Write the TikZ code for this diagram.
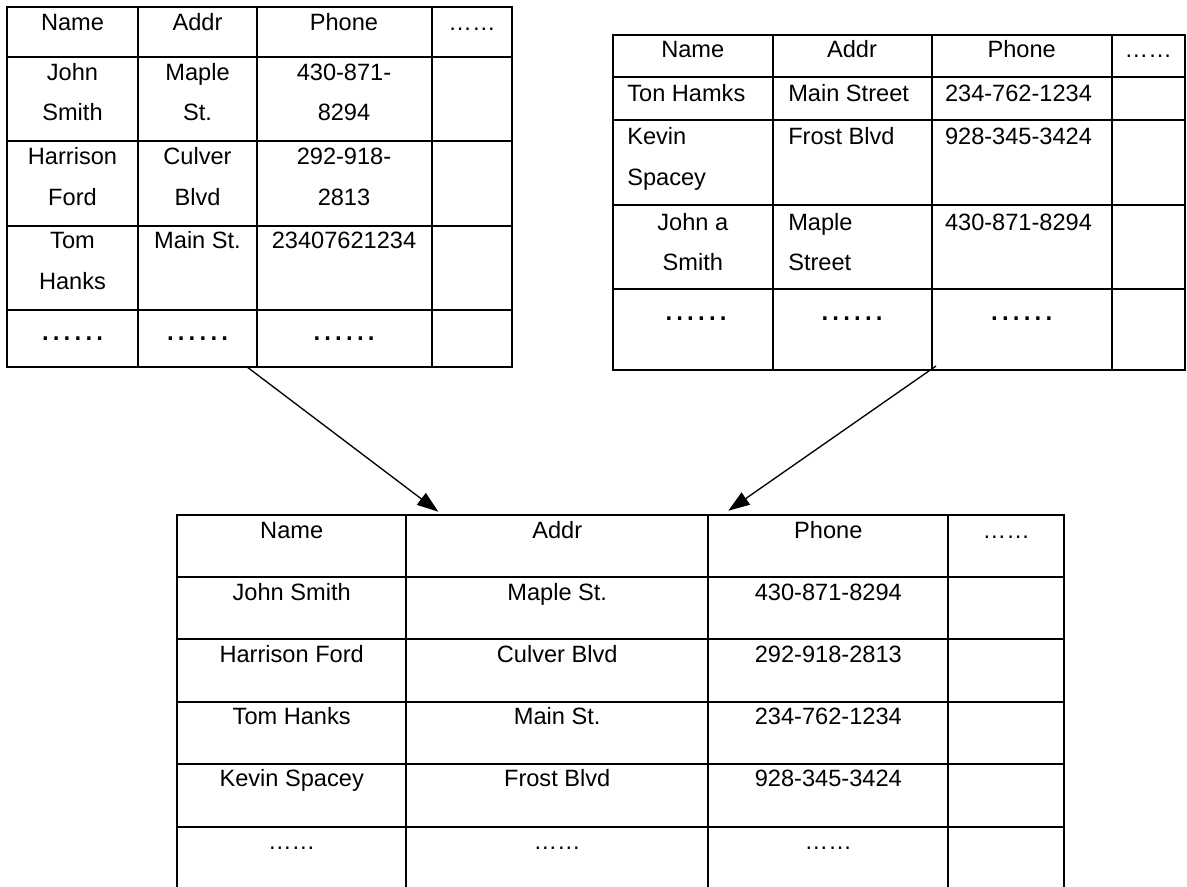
\documentclass[tikz,border=0pt]{standalone}
\usepackage{fontspec}
\setmainfont{Liberation Sans}
\usetikzlibrary{arrows.meta}
\newcommand\bdots{{\fontsize{26}{26}\selectfont\makebox[48pt][s]{.\hfill.\hfill.\hfill.\hfill.\hfill.}}}
\begin{document}
\begin{tikzpicture}[x=0.75pt,y=-0.75pt,
  grid/.style={line width=1.6pt, line cap=rect},
  txt/.style={inner sep=0pt, outer sep=0pt, anchor=base, font=\fontsize{17.7}{21}\selectfont},
  txtl/.style={txt, anchor=base west},
  conn/.style={line width=1pt, -{Triangle[length=16pt,width=11pt]}}]
\useasboundingbox (0,0) rectangle (1187,886);

% ---------- left table ----------
\draw[grid] (6.7,7.3) rectangle (512.3,366.7);
\foreach \x in {138.3,256.7,431.7} \draw[grid] (\x,7.3) -- (\x,366.7);
\foreach \y in {56.7,140.7,225.7,310} \draw[grid] (6.7,\y) -- (512.3,\y);

\node[txt] (lh1) at (72.5,30.7) {Name};
\node[txt] (lh2) at (197.5,30.7) {Addr};
\node[txt] (lh3) at (344,30.7) {Phone};
\node[txt] (lh4) at (472,30.7) {……};

\node[txt] (l11a) at (72.5,80) {John};
\node[txt] (l11b) at (72.5,120.7) {Smith};
\node[txt] (l12a) at (197.5,80) {Maple};
\node[txt] (l12b) at (197.5,120.7) {St.};
\node[txt] (l13a) at (344,80) {430-871-};
\node[txt] (l13b) at (344,120.7) {8294};

\node[txt] (l21a) at (72.5,164) {Harrison};
\node[txt] (l21b) at (72.5,205) {Ford};
\node[txt] (l22a) at (197.5,164) {Culver};
\node[txt] (l22b) at (197.5,205) {Blvd};
\node[txt] (l23a) at (344,164) {292-918-};
\node[txt] (l23b) at (344,205) {2813};

\node[txt] (l31a) at (72.5,248.3) {Tom};
\node[txt] (l31b) at (72.5,289) {Hanks};
\node[txt] (l32) at (197.5,248.3) {Main St.};
\node[txt] (l33) at (344,248.3) {23407621234};

\node[txt] (l41) at (72.5,340) {\bdots};
\node[txt] (l42) at (197.5,340) {\bdots};
\node[txt] (l43) at (344,340) {\bdots};

% ---------- right table ----------
\draw[grid] (612.7,35) rectangle (1185,370);
\foreach \x in {773,931.7,1111.7} \draw[grid] (\x,35) -- (\x,370);
\foreach \y in {76.7,120,205,289} \draw[grid] (612.7,\y) -- (1185,\y);

\node[txt] (rh1) at (692.8,57.3) {Name};
\node[txt] (rh2) at (852,57.3) {Addr};
\node[txt] (rh3) at (1021.7,57.3) {Phone};
\node[txt] (rh4) at (1148.3,57.3) {……};

\node[txtl] (r11) at (627.3,101.7) {Ton Hamks};
\node[txtl] (r12) at (788.3,101.7) {Main Street};
\node[txtl] (r13) at (945,101.7) {234-762-1234};

\node[txtl] (r21a) at (627.3,144) {Kevin};
\node[txtl] (r21b) at (627.3,185.7) {Spacey};
\node[txtl] (r22) at (788.3,144) {Frost Blvd};
\node[txtl] (r23) at (945,144) {928-345-3424};

\node[txt] (r31a) at (692.8,230) {John a};
\node[txt] (r31b) at (692.8,270) {Smith};
\node[txtl] (r32a) at (788.3,230) {Maple};
\node[txtl] (r32b) at (788.3,270) {Street};
\node[txtl] (r33) at (945,230) {430-871-8294};

\node[txt] (r41) at (696,320) {\bdots};
\node[txt] (r42) at (852,320) {\bdots};
\node[txt] (r43) at (1021.7,320) {\bdots};

% ---------- bottom table ----------
\draw[grid] (177.3,515) -- (1064.3,515);
\foreach \x in {177.3,406,708.3,948.3,1064.3} \draw[grid] (\x,515) -- (\x,890);
\foreach \y in {576.7,639.3,701.7,764.3,826.7} \draw[grid] (177.3,\y) -- (1064.3,\y);

\node[txt] (bh1) at (291.7,538.3) {Name};
\node[txt] (bh2) at (557.2,538.3) {Addr};
\node[txt] (bh3) at (828.3,538.3) {Phone};
\node[txt] (bh4) at (1006.3,538.3) {……};

\node[txt] (b11) at (291.7,600) {John Smith};
\node[txt] (b12) at (557.2,600) {Maple St.};
\node[txt] (b13) at (828.3,600) {430-871-8294};

\node[txt] (b21) at (291.7,662.3) {Harrison Ford};
\node[txt] (b22) at (557.2,662.3) {Culver Blvd};
\node[txt] (b23) at (828.3,662.3) {292-918-2813};

\node[txt] (b31) at (291.7,724.3) {Tom Hanks};
\node[txt] (b32) at (557.2,724.3) {Main St.};
\node[txt] (b33) at (828.3,724.3) {234-762-1234};

\node[txt] (b41) at (291.7,786.7) {Kevin Spacey};
\node[txt] (b42) at (557.2,786.7) {Frost Blvd};
\node[txt] (b43) at (828.3,786.7) {928-345-3424};

\node[txt] (b51) at (291.7,849) {……};
\node[txt] (b52) at (557.2,849) {……};
\node[txt] (b53) at (828.3,849) {……};

% ---------- arrows ----------
\coordinate (lsrc) at (246.7,366.7);
\coordinate (ltip) at (438.3,511.7);
\coordinate (rsrc) at (936,366);
\coordinate (rtip) at (728.3,510.7);
\draw[conn] (lsrc) -- (ltip);
\draw[conn] (rsrc) -- (rtip);
\end{tikzpicture}
\end{document}
